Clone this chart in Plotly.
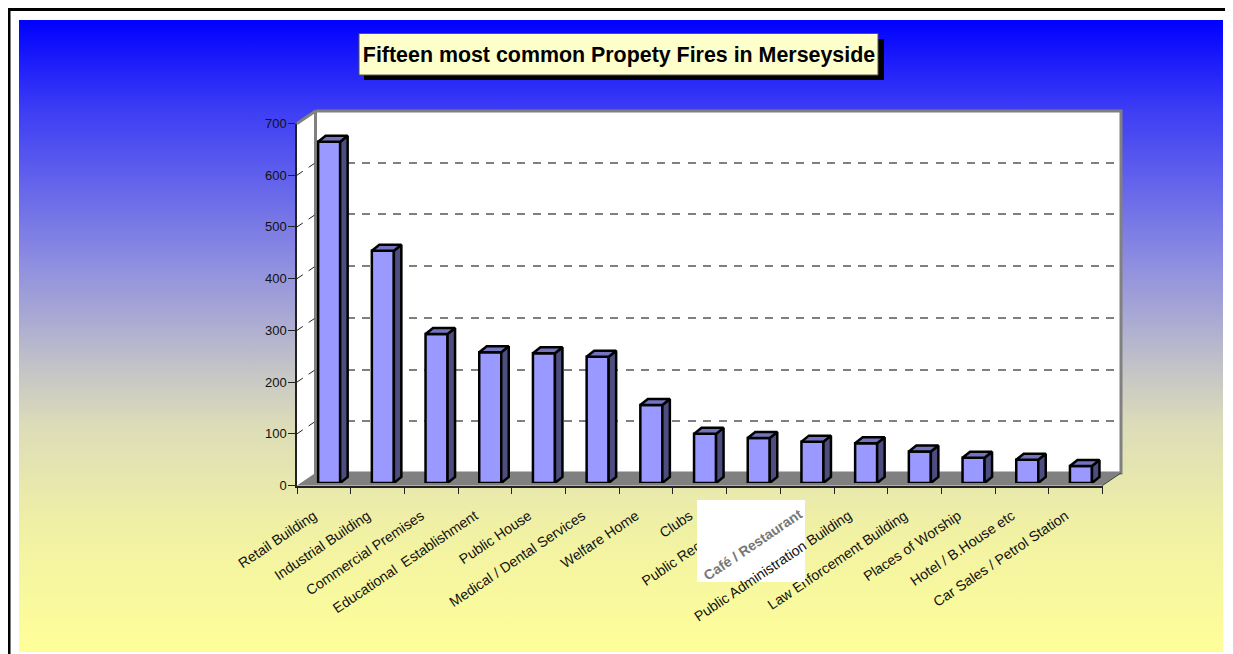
import plotly.graph_objects as go

WIDTH = 1225
HEIGHT = 646
OFFSET = 8  # the page puts the figure 8px in from the window corner

FONT = "Liberation Sans"

categories = [
    "Retail Building",
    "Industrial Building",
    "Commercial Premises",
    "Educational  Establishment",
    "Public House",
    "Medical / Dental Services",
    "Welfare Home",
    "Clubs",
    "Public Recreational",
    "Café / Restaurant",
    "Public Administration Building",
    "Law Enforcement Building",
    "Places of Worship",
    "Hotel / B.House etc",
    "Car Sales / Petrol Station",
]
fires = [660, 449, 288, 253, 251, 244, 151, 95, 87, 80, 77, 61, 49, 45, 33]
value_ticks = [0, 100, 200, 300, 400, 500, 600, 700]

# labels placed by hand because they sit on top of the white patch
patch_labels = ["Café / Restaurant", "Public Administration Building"]

# front of the box on screen
LEFT, RIGHT = 297.0, 1102.5
BOTTOM, TOP = 485.5, 123.5
DX, DY = 18.5, 12.5  # wall depth
BAR_DX, BAR_DY = 5.3, 2.5  # bars stand a little way into the box
SIDE_X, SIDE_Y = 7.5, 6.0  # depth of each bar

PER_CAT = (RIGHT - LEFT) / len(categories)
PER_VALUE = (BOTTOM - TOP) / 700


def xdom(a, b):
    return [(a - OFFSET) / WIDTH, (b - OFFSET) / WIDTH]


def ydom(bottom, top):
    return [1 - (bottom - OFFSET) / HEIGHT, 1 - (top - OFFSET) / HEIGHT]


def polygon(xs, ys, fill, line=None, width=0):
    return go.Scatter(
        x=xs,
        y=ys,
        mode="lines",
        fill="toself",
        fillcolor=fill,
        line=dict(color=line or fill, width=width),
        hoverinfo="skip",
        showlegend=False,
    )


def edge(xs, ys, color, width):
    return go.Scatter(
        x=xs,
        y=ys,
        mode="lines",
        line=dict(color=color, width=width),
        hoverinfo="skip",
        showlegend=False,
    )


fig = go.Figure()

# page background
fig.add_trace(
    go.Scatter(
        x=[19, 1223, 1223, 19, 19],
        y=[20, 20, 652, 652, 20],
        mode="lines",
        fill="toself",
        line=dict(width=0),
        fillgradient=dict(
            type="vertical",
            colorscale=[
                [0, "rgb(255,255,153)"],
                [0.2, "rgb(240,240,165)"],
                [0.36, "rgb(220,220,185)"],
                [0.44, "rgb(198,198,198)"],
                [0.62, "rgb(140,140,225)"],
                [0.86, "rgb(60,60,245)"],
                [1, "rgb(0,0,255)"],
            ],
        ),
        hoverinfo="skip",
        showlegend=False,
    )
)

# walls and floor
fig.add_trace(
    polygon(
        [LEFT, LEFT + DX, LEFT + DX, LEFT, LEFT],
        [TOP, TOP - DY, BOTTOM - DY, BOTTOM, TOP],
        "white",
    )
)
fig.add_trace(
    polygon(
        [LEFT + DX, RIGHT + DX, RIGHT + DX, LEFT + DX, LEFT + DX],
        [TOP - DY, TOP - DY, BOTTOM - DY, BOTTOM - DY, TOP - DY],
        "white",
        "#808080",
        3,
    )
)
fig.add_trace(
    polygon(
        [LEFT, RIGHT, RIGHT + DX, LEFT + DX, LEFT],
        [BOTTOM, BOTTOM, BOTTOM - DY, BOTTOM - DY, BOTTOM],
        "#808080",
    )
)
fig.add_trace(edge([LEFT, LEFT + DX], [TOP, TOP - DY], "#808080", 3))
fig.add_trace(edge([RIGHT, RIGHT + DX], [BOTTOM, BOTTOM - DY], "#444444", 1))

# gridlines running across the left wall
wall_x, wall_y = [], []
for v in value_ticks[1:-1]:
    y = BOTTOM - v * PER_VALUE
    wall_x += [LEFT, LEFT + DX, None]
    wall_y += [y, y - DY, None]
fig.add_trace(
    go.Scatter(
        x=wall_x,
        y=wall_y,
        mode="lines",
        line=dict(color="#222222", width=1, dash="7px,7px"),
        hoverinfo="skip",
        showlegend=False,
    )
)

# dashed gridlines on the back wall
fig.add_trace(
    go.Scatter(x=[0], y=[0], xaxis="x2", yaxis="y2", mode="none", showlegend=False)
)

# front axes carry the ticks and labels
fig.add_trace(
    go.Scatter(x=[0], y=[0], xaxis="x3", yaxis="y3", mode="none", showlegend=False)
)

# bars
positions = list(range(len(categories)))
BAR_WIDTH = 0.41
fig.add_trace(
    go.Bar(
        x=positions,
        y=fires,
        width=BAR_WIDTH,
        xaxis="x4",
        yaxis="y4",
        marker=dict(color="#9999FF", line=dict(color="black", width=2.5)),
        cliponaxis=False,
        showlegend=False,
    )
)

dx = SIDE_X / PER_CAT
dy = SIDE_Y / PER_VALUE
side_x, side_y, top_x, top_y = [], [], [], []
for p, v in zip(positions, fires):
    a = p - BAR_WIDTH / 2
    b = p + BAR_WIDTH / 2
    side_x += [b, b + dx, b + dx, b, b, None]
    side_y += [0, dy, v + dy, v, 0, None]
    top_x += [a, a + dx, b + dx, b, a, None]
    top_y += [v, v + dy, v + dy, v, v, None]
for xs, ys, color in [(side_x, side_y, "#4D4D80"), (top_x, top_y, "#7373BF")]:
    fig.add_trace(
        go.Scatter(
            x=xs,
            y=ys,
            xaxis="x4",
            yaxis="y4",
            mode="lines",
            fill="toself",
            fillcolor=color,
            line=dict(color="black", width=2.5),
            cliponaxis=False,
            hoverinfo="skip",
            showlegend=False,
        )
    )

tick_font = dict(family=FONT, size=14.2, color="#111111")
hidden = dict(visible=False, fixedrange=True, automargin=False)

fig.update_layout(
    template="none",
    width=WIDTH,
    height=HEIGHT,
    margin=dict(l=0, r=0, t=0, b=0),
    paper_bgcolor="white",
    plot_bgcolor="rgba(0,0,0,0)",
    showlegend=False,
    title=dict(
        text="<b>Fifteen most common Propety Fires in Merseyside</b>",
        x=(619 - OFFSET) / WIDTH,
        y=1 - (55 - OFFSET) / HEIGHT,
        xanchor="center",
        yanchor="middle",
        font=dict(family=FONT, size=21.4, color="black"),
    ),
    xaxis=dict(domain=[0, 1], range=[OFFSET, OFFSET + WIDTH], **hidden),
    yaxis=dict(domain=[0, 1], range=[OFFSET + HEIGHT, OFFSET], **hidden),
    xaxis2=dict(
        domain=xdom(LEFT + DX, RIGHT + DX),
        range=[-0.5, 14.5],
        anchor="y2",
        **hidden,
    ),
    yaxis2=dict(
        domain=ydom(BOTTOM - DY, TOP - DY),
        range=[0, 700],
        anchor="x2",
        tickvals=value_ticks[1:-1],
        showticklabels=False,
        ticks="",
        showline=False,
        zeroline=False,
        showgrid=True,
        gridcolor="#808080",
        gridwidth=2,
        griddash="8px,7.5px",
        fixedrange=True,
        automargin=False,
    ),
    xaxis3=dict(
        domain=xdom(LEFT, RIGHT),
        range=[-0.5, 14.5],
        anchor="y3",
        tickmode="array",
        tickvals=positions,
        ticktext=["" if c in patch_labels else c for c in categories],
        tickangle=-34,
        tickfont=tick_font,
        ticks="",
        ticklabelstandoff=15,
        ticklabelshift=-10,
        showgrid=False,
        zeroline=False,
        showline=True,
        linecolor="#222222",
        linewidth=1.5,
        automargin=False,
        minor=dict(
            tick0=-0.5,
            dtick=1,
            ticks="outside",
            ticklen=7,
            tickwidth=1,
            tickcolor="#222222",
            showgrid=False,
        ),
        fixedrange=True,
    ),
    yaxis3=dict(
        domain=ydom(BOTTOM, TOP),
        range=[0, 700],
        anchor="x3",
        tickvals=value_ticks,
        tickfont=dict(family=FONT, size=13, color="#111111"),
        ticks="outside",
        ticklen=7,
        tickwidth=1,
        tickcolor="#222222",
        ticklabelstandoff=-1,
        showgrid=False,
        zeroline=False,
        showline=True,
        linecolor="#222222",
        linewidth=1.5,
        automargin=False,
        fixedrange=True,
    ),
    xaxis4=dict(
        domain=xdom(LEFT + BAR_DX, RIGHT + BAR_DX),
        range=[-0.5, 14.5],
        anchor="y4",
        **hidden,
    ),
    yaxis4=dict(
        domain=ydom(BOTTOM - BAR_DY, TOP - BAR_DY),
        range=[0, 700],
        anchor="x4",
        **hidden,
    ),
    shapes=[
        # page frame, top and left only
        dict(type="line", xref="x", yref="y", x0=8, x1=1233, y0=9.5, y1=9.5,
             line=dict(color="black", width=3), layer="above"),
        dict(type="line", xref="x", yref="y", x0=9, x1=9, y0=8, y1=654,
             line=dict(color="black", width=3), layer="above"),
        # title box and its shadow
        dict(type="rect", xref="x", yref="y", x0=364, x1=884, y0=39, y1=80,
             fillcolor="black", line=dict(width=0), layer="above"),
        dict(type="rect", xref="x", yref="y", x0=359, x1=878, y0=33.5, y1=75,
             fillcolor="#FFFFCC", line=dict(color="#555555", width=1), layer="above"),
        # white patch over the labels
        dict(type="rect", xref="x", yref="y", x0=697, x1=805, y0=500, y1=582,
             fillcolor="white", line=dict(width=0), layer="above"),
    ],
    annotations=[
        dict(
            text="<b>Café / Restaurant</b>",
            xref="x", yref="y", x=807, y=503,
            xanchor="right", yanchor="top",
            textangle=-34, showarrow=False,
            font=dict(family=FONT, size=14, color="#777777"),
        ),
        dict(
            text="Public Administration Building",
            xref="x", yref="y", x=857, y=505,
            xanchor="right", yanchor="top",
            textangle=-34, showarrow=False,
            font=tick_font,
        ),
    ],
)

fig.write_html("out.html")
